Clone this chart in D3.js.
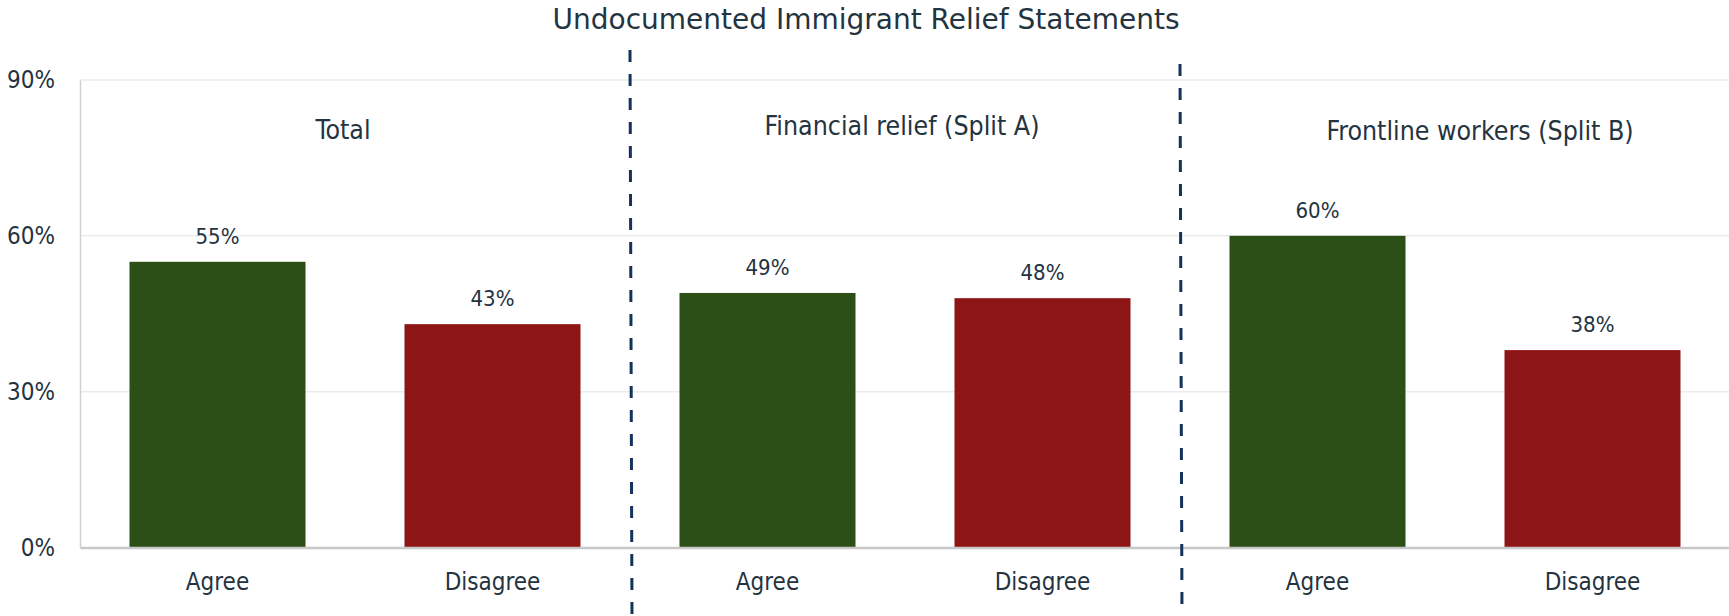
<!DOCTYPE html>
<html>
<head>
<meta charset="utf-8">
<script src="https://cdn.jsdelivr.net/npm/d3@7"></script>
<style>
  body { margin: 0; background: #fff; }
  svg text { font-family: "DejaVu Sans Condensed", "DejaVu Sans", sans-serif; font-stretch: condensed; fill: #243340; }
  svg text.title { font-family: "DejaVu Sans", sans-serif; font-stretch: normal; }
</style>
</head>
<body>
<svg id="chart"></svg>
<script>
const title = 'Undocumented Immigrant Relief Statements';
const groups = ['Total', 'Financial relief (Split A)', 'Frontline workers (Split B)'];
const responses = ['Agree', 'Disagree'];
const agreeValues = [0.55, 0.49, 0.60];
const disagreeValues = [0.43, 0.48, 0.38];
const yTicks = [0, 0.3, 0.6, 0.9];

const data = [];
groups.forEach((g, i) => {
  data.push({group: i, resp: 'Agree', value: agreeValues[i]});
  data.push({group: i, resp: 'Disagree', value: disagreeValues[i]});
});

const W = 1729, H = 616;
const plotLeft = 80, plotRight = 1730, plotTop = 80, plotBottom = 547.5;

const svg = d3.select('#chart')
  .attr('width', W)
  .attr('height', H);

const x = d3.scaleBand()
  .domain(data.map((d, i) => i))
  .range([plotLeft, plotRight])
  .paddingInner(0.36)
  .paddingOuter(0.18);

const y = d3.scaleLinear()
  .domain([0, 0.9])
  .range([plotBottom, plotTop]);

const color = d3.scaleOrdinal()
  .domain(responses)
  .range(['#2c4e17', '#8d1516']);

// gridlines
svg.append('g')
  .selectAll('line')
  .data(yTicks.slice(1))
  .enter()
  .append('line')
  .attr('x1', plotLeft)
  .attr('x2', W)
  .attr('y1', d => y(d))
  .attr('y2', d => y(d))
  .attr('stroke', '#ebebeb')
  .attr('stroke-width', 1.5);

// y axis
const yAxis = svg.append('g')
  .attr('transform', `translate(${plotLeft},0)`)
  .call(d3.axisLeft(y).tickValues(yTicks).tickFormat(d3.format('.0%')).tickSize(0).tickPadding(25));
yAxis.select('.domain').attr('stroke', '#d0d0d0').attr('stroke-width', 1.5);
yAxis.selectAll('text').style('font-size', '24px').attr('fill', '#243340');

// bars
svg.selectAll('rect.bar')
  .data(data)
  .enter()
  .append('rect')
  .attr('class', 'bar')
  .attr('x', (d, i) => x(i))
  .attr('y', d => y(d.value))
  .attr('width', x.bandwidth())
  .attr('height', d => y(0) - y(d.value))
  .attr('fill', d => color(d.resp));

// x axis
const xAxis = svg.append('g')
  .attr('transform', `translate(0,${plotBottom})`)
  .call(d3.axisBottom(x).tickFormat(i => data[i].resp).tickSize(0).tickPadding(25));
xAxis.select('.domain').attr('stroke', '#c8c8c8').attr('stroke-width', 2.5);
xAxis.selectAll('text').style('font-size', '24px').attr('fill', '#243340');

// value labels
svg.selectAll('.label')
  .data(data)
  .enter()
  .append('text')
  .attr('class', 'label')
  .attr('x', (d, i) => x(i) + x.bandwidth() / 2)
  .attr('y', d => y(d.value) - 18)
  .attr('text-anchor', 'middle')
  .style('font-size', '22px')
  .text(d => Math.round(d.value * 100) + '%');

// group separators
const step = x.step();
const sepTop = [50, 64];
[1, 2].forEach((k, j) => {
  const sx = plotLeft + step * 2 * k;
  svg.append('line')
    .attr('x1', sx).attr('x2', sx + 2)
    .attr('y1', sepTop[j]).attr('y2', H)
    .attr('stroke', '#14325a')
    .attr('stroke-width', 3)
    .attr('stroke-dasharray', '12,12');
});

// group titles
const groupOffset = [-12, -3, 25];
svg.selectAll('.group')
  .data(groups)
  .enter()
  .append('text')
  .attr('class', 'group')
  .attr('x', (d, i) => plotLeft + step * (2 * i + 1) + groupOffset[i])
  .attr('y', (d, i) => [139, 135, 140][i])
  .attr('text-anchor', 'middle')
  .style('font-size', '26.5px')
  .text(d => d);

svg.append('text')
  .attr('class', 'title')
  .attr('x', 866)
  .attr('y', 29)
  .attr('text-anchor', 'middle')
  .style('font-size', '28px')
  .text(title);
</script>
</body>
</html>
